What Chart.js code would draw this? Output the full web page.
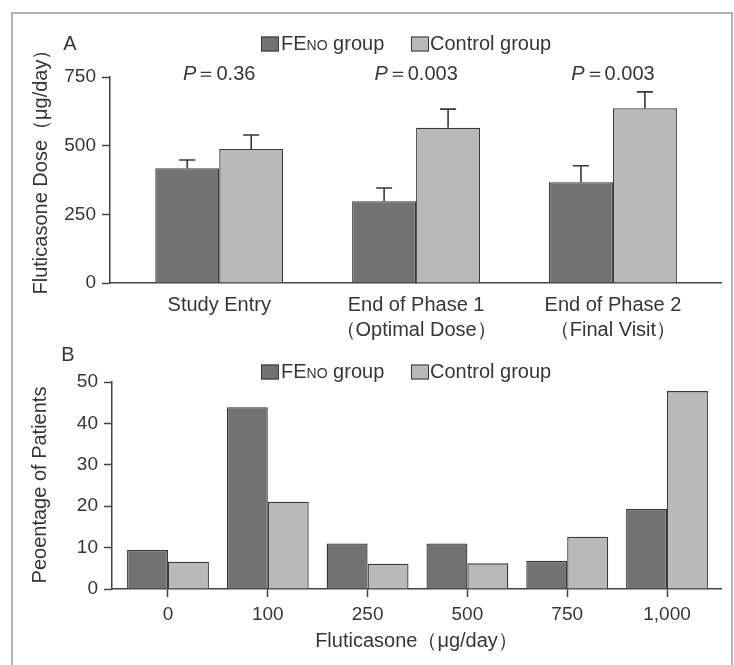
<!DOCTYPE html>
<html>
<head>
<meta charset="utf-8">
<script src="https://cdn.jsdelivr.net/npm/chart.js@4.4.1/dist/chart.umd.min.js"></script>
<style>
  html, body { margin: 0; padding: 0; background: #fff; }
  body { width: 734px; height: 665px; position: relative; overflow: hidden; }
  #frame { position: absolute; left: 11px; top: 12px; width: 718px; height: 660px;
           border: 2px solid #b4b4b4; border-bottom: none; }
  canvas { position: absolute; left: 0; }
  #chartA { top: 0; }
  #chartB { top: 340px; }
</style>
</head>
<body>
<div id="frame"></div>
<canvas id="chartA" width="734" height="348"></canvas>
<canvas id="chartB" width="734" height="325"></canvas>
<script>
// Panel A: mean fluticasone dose per visit
const doseLabels = [['Study Entry'], ['End of Phase 1', '（Optimal Dose）'], ['End of Phase 2', '（Final Visit）']];
const doseFeno = [418, 298, 367];
const doseControl = [488, 565, 636];
const doseFenoErr = [30, 48, 60];
const doseControlErr = [51, 68, 60];
const pValues = ['0.36', '0.003', '0.003'];
const doseTicks = [0, 250, 500, 750];

// Panel B: distribution of final doses
const distLabels = ['0', '100', '250', '500', '750', '1,000'];
const distFeno = [9.4, 43.9, 11.0, 11.0, 6.8, 19.3];
const distControl = [6.6, 21.1, 6.1, 6.2, 12.6, 47.8];
const distTicks = [0, 10, 20, 30, 40, 50];

const FONT = "'Liberation Sans', Arial, sans-serif";
const TEXT = '#363636';
const AXIS = '#444';
const FENO_COLOR = '#727272';
const CONTROL_COLOR = '#b9b9b9';
const EDGE = '#383838';

Chart.defaults.font.family = FONT;
Chart.defaults.color = TEXT;

function drawLegend(ctx, cy) {
    ctx.save();
    ctx.textBaseline = 'middle';
    ctx.textAlign = 'left';
    ctx.strokeStyle = EDGE;
    ctx.lineWidth = 1;
    ctx.fillStyle = FENO_COLOR;
    ctx.fillRect(261, cy - 7.5, 18, 15);
    ctx.strokeRect(261.5, cy - 7, 17, 14);
    ctx.fillStyle = CONTROL_COLOR;
    ctx.fillRect(411, cy - 7.5, 18, 15);
    ctx.strokeRect(411.5, cy - 7, 17, 14);

    ctx.fillStyle = TEXT;
    let x = 281;
    ctx.font = `20px ${FONT}`;
    ctx.fillText('FE', x, cy);
    x += ctx.measureText('FE').width;
    ctx.font = `14px ${FONT}`;
    ctx.fillText('NO', x, cy + 2);
    x += ctx.measureText('NO').width;
    ctx.font = `20px ${FONT}`;
    ctx.fillText(' group', x, cy);
    ctx.fillText('Control group', 430, cy);
    ctx.restore();
}

function drawText(ctx, text, x, y, rotate) {
    ctx.save();
    ctx.font = `20px ${FONT}`;
    ctx.fillStyle = TEXT;
    ctx.textBaseline = 'middle';
    ctx.textAlign = 'center';
    ctx.translate(x, y);
    if (rotate) ctx.rotate(-Math.PI / 2);
    ctx.fillText(text, 0, 0);
    ctx.restore();
}

const errorBars = {
    id: 'errorBars',
    afterDatasetsDraw(chart, args, opts) {
        if (!opts.errors) return;
        const ctx = chart.ctx;
        const yScale = chart.scales.y;
        ctx.save();
        ctx.strokeStyle = EDGE;
        ctx.lineWidth = 1.6;
        chart.data.datasets.forEach((ds, d) => {
            const meta = chart.getDatasetMeta(d);
            meta.data.forEach((bar, i) => {
                const top = yScale.getPixelForValue(ds.data[i].y + opts.errors[d][i]);
                ctx.beginPath();
                ctx.moveTo(bar.x, bar.y);
                ctx.lineTo(bar.x, top);
                ctx.moveTo(bar.x - 8, top);
                ctx.lineTo(bar.x + 8, top);
                ctx.stroke();
            });
        });
        ctx.restore();
    }
};

const panelText = {
    id: 'panelText',
    afterDraw(chart, args, opts) {
        const ctx = chart.ctx;
        drawLegend(ctx, opts.legendY);
        drawText(ctx, opts.letter, opts.letterX, opts.letterY, false);
        if (opts.yTitle) drawText(ctx, opts.yTitle, opts.yTitleX, opts.yTitleY, true);
        if (opts.pValues) {
            const xScale = chart.scales.x;
            ctx.save();
            ctx.fillStyle = TEXT;
            ctx.textBaseline = 'middle';
            ctx.textAlign = 'left';
            opts.pValues.forEach((p, i) => {
                const rest = '＝' + p;
                ctx.font = `italic 20px ${FONT}`;
                const wP = ctx.measureText('P').width;
                ctx.font = `20px ${FONT}`;
                const wR = ctx.measureText(rest).width;
                const x0 = xScale.getPixelForValue(i) - (wP + wR) / 2;
                ctx.font = `italic 20px ${FONT}`;
                ctx.fillText('P', x0, 74);
                ctx.font = `20px ${FONT}`;
                ctx.fillText(rest, x0 + wP, 74);
            });
            ctx.restore();
        }
    }
};

function barDataset(label, values, color) {
    return {
        label: label,
        data: values.map((v, i) => ({ x: i, y: v })),
        backgroundColor: color,
        borderColor: EDGE,
        borderWidth: 1.3,
        borderSkipped: 'bottom',
        barPercentage: 1
    };
}

function yAxis(ticks, max, width) {
    return {
        min: 0,
        max: max,
        afterBuildTicks: scale => { scale.ticks = ticks.map(v => ({ value: v })); },
        afterFit: scale => { scale.width = width; },
        border: { display: true, color: AXIS, width: 1.5 },
        grid: { drawOnChartArea: false, drawTicks: true, tickLength: 8, tickColor: AXIS, tickWidth: 1.5 },
        ticks: { font: { size: 19 }, color: TEXT, padding: 6 }
    };
}

// category positions on a linear axis so the groups sit where the original puts them
function xAxis(labels, min, max, height, font, padding, showTicks) {
    return {
        type: 'linear',
        offset: false,
        bounds: 'data',
        min: min,
        max: max,
        afterBuildTicks: scale => { scale.ticks = labels.map((l, i) => ({ value: i })); },
        afterFit: scale => { scale.height = height; },
        border: { display: true, color: AXIS, width: 1.5 },
        grid: showTicks
            ? { display: true, offset: false, drawOnChartArea: false, drawTicks: true, tickLength: 8, tickColor: AXIS, tickWidth: 1.5 }
            : { display: false },
        ticks: {
            font: font,
            color: TEXT,
            padding: padding,
            autoSkip: false,
            maxRotation: 0,
            callback: value => labels[value]
        }
    };
}

new Chart(document.getElementById('chartA'), {
    type: 'bar',
    data: {
        datasets: [
            barDataset('FENO group', doseFeno, FENO_COLOR),
            barDataset('Control group', doseControl, CONTROL_COLOR)
        ]
    },
    options: {
        responsive: false,
        animation: false,
        layout: { padding: { top: 77, right: 13, left: 0, bottom: 0 } },
        datasets: { bar: { categoryPercentage: 0.65 } },
        plugins: {
            legend: { display: false },
            tooltip: { enabled: false },
            errorBars: { errors: [doseFenoErr, doseControlErr] },
            panelText: { legendY: 44, letter: 'A', letterX: 70, letterY: 44, pValues: pValues,
                         yTitle: 'Fluticasone Dose（μg/day）', yTitleX: 41, yTitleY: 167 }
        },
        scales: {
            x: xAxis(doseLabels, -0.555, 2.549, 65, { size: 20, lineHeight: 1.25 }, 2, false),
            y: yAxis(doseTicks, 750, 110)
        }
    },
    plugins: [errorBars, panelText]
});

const distX = xAxis(distLabels, -0.561, 5.541, 76, { size: 19 }, 6, true);
distX.title = { display: true, text: 'Fluticasone（μg/day）', font: { size: 20 }, color: TEXT, padding: { top: 0, bottom: 12 } };

new Chart(document.getElementById('chartB'), {
    type: 'bar',
    data: {
        datasets: [
            barDataset('FENO group', distFeno, FENO_COLOR),
            barDataset('Control group', distControl, CONTROL_COLOR)
        ]
    },
    options: {
        responsive: false,
        animation: false,
        layout: { padding: { top: 42, right: 13, left: 0, bottom: 0 } },
        datasets: { bar: { categoryPercentage: 0.82 } },
        plugins: {
            legend: { display: false },
            tooltip: { enabled: false },
            panelText: { legendY: 32, letter: 'B', letterX: 68, letterY: 15,
                         yTitle: 'Peoentage of Patients', yTitleX: 40, yTitleY: 145 }
        },
        scales: {
            x: distX,
            y: yAxis(distTicks, 50, 112)
        }
    },
    plugins: [panelText]
});
</script>
</body>
</html>
